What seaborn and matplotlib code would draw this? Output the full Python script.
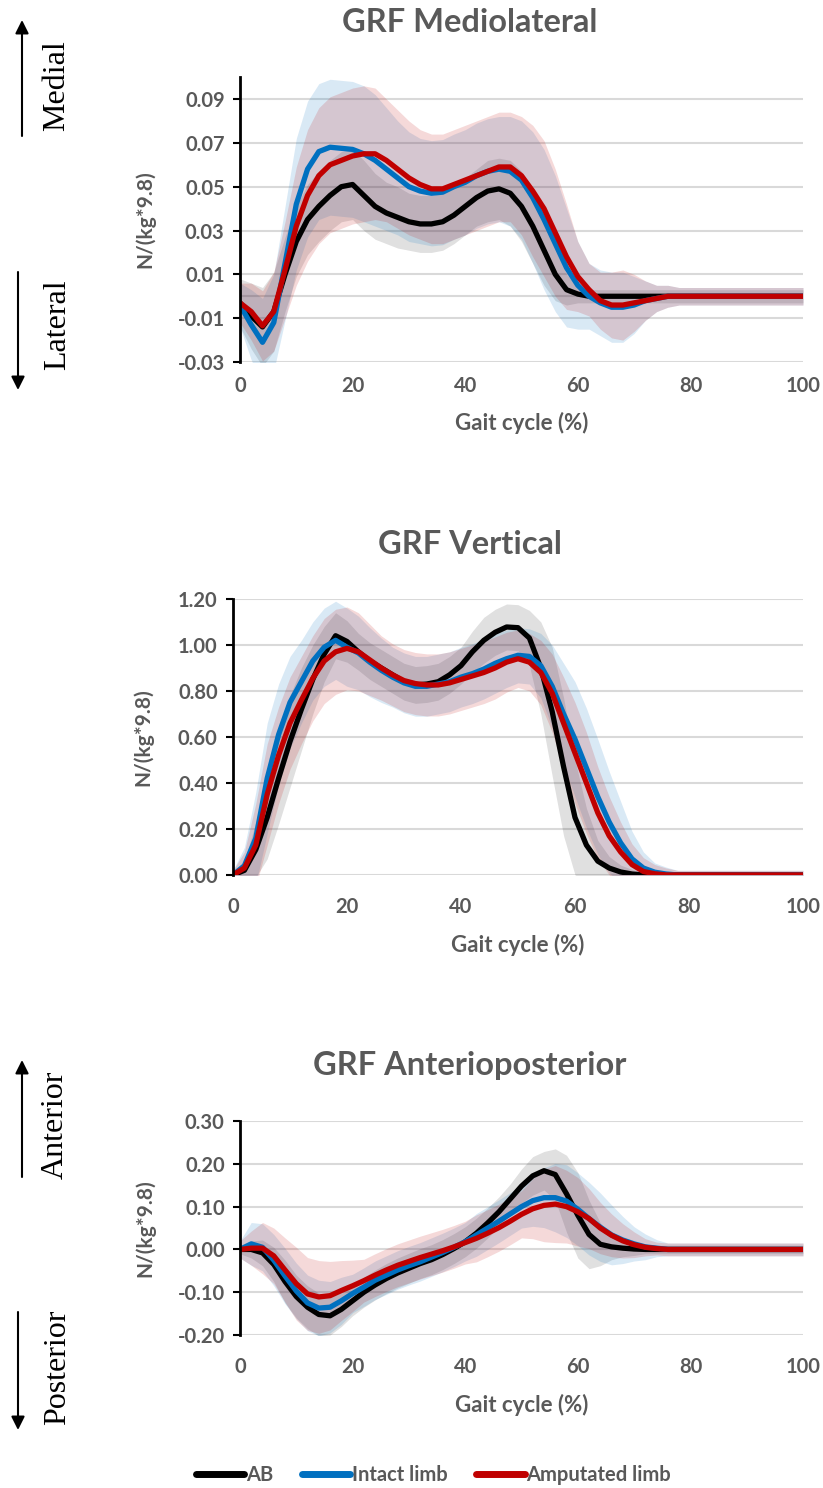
import numpy as np
import pandas as pd
import matplotlib
matplotlib.use("Agg")
import matplotlib.pyplot as plt
from matplotlib.patches import FancyArrowPatch
import seaborn as sns

# gait cycle grid (%)
gait = list(range(0, 101, 2))

groups = ["AB", "Intact limb", "Amputated limb"]
colors = ["#000000", "#0070C0", "#C00000"]
band_alpha = [0.12, 0.15, 0.15]

# ---- GRF Mediolateral (mean / SD) ----
ml_ab = [-0.003, -0.009, -0.014, -0.007, 0.010, 0.025, 0.035, 0.041, 0.046, 0.050,
         0.051, 0.046, 0.041, 0.038, 0.036, 0.034, 0.033, 0.033, 0.034, 0.037,
         0.041, 0.045, 0.048, 0.049, 0.047, 0.041, 0.032, 0.021, 0.010, 0.003,
         0.001, 0.000, 0.000, 0.000, 0.000, 0.000, 0.000, 0.000, 0.000, 0.000,
         0.000, 0.000, 0.000, 0.000, 0.000, 0.000, 0.000, 0.000, 0.000, 0.000,
         0.000]
ml_intact = [-0.004, -0.013, -0.021, -0.012, 0.015, 0.042, 0.058, 0.066, 0.068, 0.0675,
             0.067, 0.065, 0.062, 0.058, 0.054, 0.050, 0.048, 0.047, 0.0475, 0.050,
             0.052, 0.055, 0.057, 0.058, 0.057, 0.053, 0.045, 0.035, 0.024, 0.013,
             0.005, 0.000, -0.003, -0.005, -0.005, -0.004, -0.002, -0.001, 0.000, 0.000,
             0.000, 0.000, 0.000, 0.000, 0.000, 0.000, 0.000, 0.000, 0.000, 0.000,
             0.000]
ml_amp = [-0.003, -0.007, -0.0135, -0.007, 0.012, 0.032, 0.046, 0.055, 0.060, 0.062,
          0.064, 0.065, 0.065, 0.062, 0.058, 0.054, 0.051, 0.049, 0.049, 0.051,
          0.053, 0.055, 0.057, 0.059, 0.059, 0.055, 0.048, 0.040, 0.029, 0.018,
          0.009, 0.003, -0.002, -0.004, -0.004, -0.003, -0.002, -0.001, 0.000, 0.000,
          0.000, 0.000, 0.000, 0.000, 0.000, 0.000, 0.000, 0.000, 0.000, 0.000,
          0.000]
ml_ab_sd = [0.011, 0.015, 0.018, 0.018, 0.017, 0.016, 0.016, 0.016, 0.016, 0.016,
            0.016, 0.016, 0.015, 0.014, 0.014, 0.013, 0.013, 0.013, 0.013, 0.013,
            0.013, 0.013, 0.014, 0.014, 0.015, 0.016, 0.017, 0.016, 0.012, 0.007,
            0.004, 0.003, 0.003, 0.003, 0.003, 0.003, 0.003, 0.003, 0.003, 0.003,
            0.003, 0.003, 0.003, 0.003, 0.003, 0.003, 0.003, 0.003, 0.003, 0.003,
            0.003]
ml_intact_sd = [0.010, 0.016, 0.020, 0.022, 0.026, 0.030, 0.031, 0.031, 0.031, 0.031,
                0.031, 0.031, 0.030, 0.028, 0.026, 0.025, 0.024, 0.024, 0.024, 0.024,
                0.024, 0.024, 0.024, 0.024, 0.025, 0.027, 0.030, 0.032, 0.031, 0.027,
                0.020, 0.015, 0.015, 0.016, 0.016, 0.013, 0.009, 0.006, 0.005, 0.004,
                0.004, 0.004, 0.004, 0.004, 0.004, 0.004, 0.004, 0.004, 0.004, 0.004,
                0.004]
ml_amp_sd = [0.009, 0.013, 0.016, 0.018, 0.022, 0.027, 0.030, 0.031, 0.031, 0.031,
             0.031, 0.031, 0.030, 0.028, 0.027, 0.026, 0.025, 0.025, 0.025, 0.025,
             0.025, 0.025, 0.025, 0.025, 0.025, 0.027, 0.030, 0.031, 0.029, 0.024,
             0.016, 0.012, 0.013, 0.015, 0.016, 0.013, 0.009, 0.006, 0.005, 0.004,
             0.004, 0.004, 0.004, 0.004, 0.004, 0.004, 0.004, 0.004, 0.004, 0.004,
             0.004]

# ---- GRF Vertical ----
v_ab = [0.000, 0.020, 0.110, 0.250, 0.420, 0.580, 0.720, 0.850, 0.960, 1.040,
        1.015, 0.970, 0.930, 0.900, 0.870, 0.840, 0.826, 0.830, 0.840, 0.870,
        0.910, 0.970, 1.020, 1.055, 1.078, 1.075, 1.030, 0.900, 0.710, 0.470,
        0.250, 0.130, 0.060, 0.030, 0.013, 0.004, 0.000, 0.000, 0.000, 0.000,
        0.000, 0.000, 0.000, 0.000, 0.000, 0.000, 0.000, 0.000, 0.000, 0.000,
        0.000]
v_intact = [0.000, 0.040, 0.160, 0.420, 0.610, 0.750, 0.840, 0.930, 0.990, 1.020,
            0.990, 0.965, 0.925, 0.890, 0.860, 0.835, 0.820, 0.820, 0.830, 0.840,
            0.860, 0.875, 0.895, 0.920, 0.940, 0.955, 0.950, 0.910, 0.820, 0.700,
            0.590, 0.465, 0.340, 0.230, 0.140, 0.070, 0.030, 0.012, 0.004, 0.000,
            0.000, 0.000, 0.000, 0.000, 0.000, 0.000, 0.000, 0.000, 0.000, 0.000,
            0.000]
v_amp = [0.000, 0.030, 0.130, 0.350, 0.520, 0.660, 0.760, 0.855, 0.930, 0.970,
         0.985, 0.970, 0.935, 0.900, 0.870, 0.845, 0.832, 0.826, 0.826, 0.835,
         0.850, 0.865, 0.880, 0.900, 0.925, 0.940, 0.925, 0.880, 0.790, 0.660,
         0.530, 0.400, 0.270, 0.170, 0.100, 0.045, 0.015, 0.005, 0.000, 0.000,
         0.000, 0.000, 0.000, 0.000, 0.000, 0.000, 0.000, 0.000, 0.000, 0.000,
         0.000]
v_ab_sd = [0.010, 0.040, 0.120, 0.180, 0.200, 0.200, 0.180, 0.150, 0.120, 0.100,
           0.090, 0.080, 0.080, 0.080, 0.080, 0.080, 0.080, 0.080, 0.080, 0.080,
           0.080, 0.090, 0.100, 0.100, 0.100, 0.100, 0.120, 0.200, 0.280, 0.300,
           0.250, 0.160, 0.090, 0.050, 0.030, 0.020, 0.010, 0.010, 0.010, 0.010,
           0.010, 0.010, 0.010, 0.010, 0.010, 0.010, 0.010, 0.010, 0.010, 0.010,
           0.010]
v_intact_sd = [0.020, 0.080, 0.200, 0.240, 0.220, 0.200, 0.180, 0.170, 0.170, 0.170,
               0.170, 0.160, 0.150, 0.140, 0.130, 0.130, 0.130, 0.130, 0.130, 0.130,
               0.130, 0.130, 0.130, 0.130, 0.125, 0.120, 0.120, 0.140, 0.180, 0.220,
               0.250, 0.260, 0.250, 0.220, 0.180, 0.120, 0.070, 0.040, 0.030, 0.020,
               0.020, 0.020, 0.020, 0.020, 0.020, 0.020, 0.020, 0.020, 0.020, 0.020,
               0.020]
v_amp_sd = [0.020, 0.070, 0.180, 0.220, 0.210, 0.200, 0.190, 0.185, 0.185, 0.185,
            0.180, 0.170, 0.155, 0.140, 0.135, 0.135, 0.135, 0.135, 0.135, 0.135,
            0.135, 0.135, 0.135, 0.135, 0.130, 0.125, 0.125, 0.140, 0.170, 0.200,
            0.220, 0.220, 0.200, 0.170, 0.130, 0.090, 0.060, 0.040, 0.030, 0.020,
            0.020, 0.020, 0.020, 0.020, 0.020, 0.020, 0.020, 0.020, 0.020, 0.020,
            0.020]

# ---- GRF Anterioposterior ----
ap_ab = [0.000, 0.000, -0.008, -0.035, -0.075, -0.110, -0.135, -0.152, -0.155, -0.140,
         -0.120, -0.100, -0.083, -0.068, -0.055, -0.044, -0.033, -0.024, -0.012, 0.002,
         0.018, 0.038, 0.062, 0.088, 0.118, 0.148, 0.172, 0.184, 0.175, 0.130,
         0.080, 0.035, 0.012, 0.006, 0.003, 0.001, 0.000, 0.000, 0.000, 0.000,
         0.000, 0.000, 0.000, 0.000, 0.000, 0.000, 0.000, 0.000, 0.000, 0.000,
         0.000]
ap_intact = [0.000, 0.013, 0.005, -0.025, -0.062, -0.097, -0.125, -0.137, -0.135, -0.120,
             -0.103, -0.088, -0.072, -0.060, -0.048, -0.038, -0.029, -0.018, -0.007, 0.005,
             0.018, 0.034, 0.050, 0.066, 0.083, 0.100, 0.114, 0.121, 0.121, 0.113,
             0.094, 0.072, 0.052, 0.034, 0.022, 0.013, 0.006, 0.003, 0.000, 0.000,
             0.000, 0.000, 0.000, 0.000, 0.000, 0.000, 0.000, 0.000, 0.000, 0.000,
             0.000]
ap_amp = [0.000, 0.003, 0.003, -0.015, -0.048, -0.080, -0.104, -0.111, -0.108, -0.096,
          -0.085, -0.073, -0.060, -0.048, -0.037, -0.028, -0.019, -0.011, -0.003, 0.006,
          0.016, 0.026, 0.038, 0.051, 0.066, 0.082, 0.095, 0.103, 0.106, 0.100,
          0.088, 0.072, 0.050, 0.033, 0.020, 0.011, 0.005, 0.002, 0.000, 0.000,
          0.000, 0.000, 0.000, 0.000, 0.000, 0.000, 0.000, 0.000, 0.000, 0.000,
          0.000]
ap_ab_sd = [0.010, 0.020, 0.030, 0.040, 0.050, 0.050, 0.050, 0.050, 0.045, 0.040,
            0.035, 0.035, 0.035, 0.035, 0.035, 0.035, 0.035, 0.035, 0.035, 0.035,
            0.035, 0.035, 0.035, 0.035, 0.035, 0.040, 0.045, 0.045, 0.060, 0.090,
            0.100, 0.080, 0.050, 0.030, 0.020, 0.015, 0.010, 0.010, 0.010, 0.010,
            0.010, 0.010, 0.010, 0.010, 0.010, 0.010, 0.010, 0.010, 0.010, 0.010,
            0.010]
ap_intact_sd = [0.020, 0.050, 0.055, 0.060, 0.065, 0.065, 0.065, 0.065, 0.060, 0.055,
                0.045, 0.045, 0.045, 0.045, 0.045, 0.045, 0.045, 0.045, 0.045, 0.045,
                0.045, 0.050, 0.050, 0.050, 0.050, 0.050, 0.060, 0.070, 0.080, 0.085,
                0.085, 0.085, 0.080, 0.070, 0.055, 0.040, 0.030, 0.020, 0.015, 0.015,
                0.015, 0.015, 0.015, 0.015, 0.015, 0.015, 0.015, 0.015, 0.015, 0.015,
                0.015]
ap_amp_sd = [0.020, 0.040, 0.060, 0.065, 0.075, 0.085, 0.085, 0.085, 0.080, 0.070,
             0.060, 0.050, 0.050, 0.050, 0.050, 0.050, 0.050, 0.050, 0.050, 0.050,
             0.050, 0.055, 0.055, 0.055, 0.055, 0.055, 0.070, 0.085, 0.090, 0.085,
             0.080, 0.070, 0.060, 0.050, 0.040, 0.030, 0.020, 0.015, 0.015, 0.015,
             0.015, 0.015, 0.015, 0.015, 0.015, 0.015, 0.015, 0.015, 0.015, 0.015,
             0.015]

x_ticks = [0, 20, 40, 60, 80, 100]
ml_yticks = [-0.03, -0.01, 0.01, 0.03, 0.05, 0.07, 0.09]
v_yticks = [0.00, 0.20, 0.40, 0.60, 0.80, 1.00, 1.20]
ap_yticks = [-0.20, -0.10, 0.00, 0.10, 0.20, 0.30]


def long_table(means, sds):
    parts = []
    for g, m, s in zip(groups, means, sds):
        parts.append(pd.DataFrame({"gait": gait, "value": m, "sd": s, "group": g}))
    return pd.concat(parts, ignore_index=True)


sns.set_theme(style="white")
plt.rcParams["font.family"] = ["Lato", "DejaVu Sans"]
GRAY = "#595959"

fig = plt.figure(figsize=(8.23, 14.88), dpi=100)

panels = [
    dict(df=long_table([ml_ab, ml_intact, ml_amp], [ml_ab_sd, ml_intact_sd, ml_amp_sd]),
         rect=[0.2916, 0.7567, 0.6841, 0.1915], ylim=(-0.03, 0.10), yticks=ml_yticks,
         title="GRF Mediolateral", title_y=22, pad=10, xlab_y=-0.214, ylab_x=-0.1687),
    dict(df=long_table([v_ab, v_intact, v_amp], [v_ab_sd, v_intact_sd, v_amp_sd]),
         rect=[0.2831, 0.4120, 0.6926, 0.1855], ylim=(0.0, 1.2), yticks=v_yticks,
         title="GRF Vertical", title_y=545, pad=16, xlab_y=-0.2536, ylab_x=-0.158),
    dict(df=long_table([ap_ab, ap_intact, ap_amp], [ap_ab_sd, ap_intact_sd, ap_amp_sd]),
         rect=[0.2916, 0.1028, 0.6841, 0.1438], ylim=(-0.2, 0.3), yticks=ap_yticks,
         title="GRF Anterioposterior", title_y=1065, pad=16, xlab_y=-0.327, ylab_x=-0.1687),
]

for i, p in enumerate(panels):
    ax = fig.add_axes(p["rect"])
    df = p["df"]
    # SD bands
    for g, c, a in zip(groups, colors, band_alpha):
        d = df[df["group"] == g]
        ax.fill_between(d["gait"], d["value"] - d["sd"], d["value"] + d["sd"],
                        color=c, alpha=a, lw=0)
    sns.lineplot(data=df, x="gait", y="value", hue="group", hue_order=groups,
                 palette=colors, linewidth=3.8, legend=False, ax=ax,
                 errorbar=None, solid_capstyle="round", solid_joinstyle="round")
    if i == 0:
        ax.axhline(0, color="#d9d9d9", lw=1.5, zorder=0)
    ax.set_xlim(0, 100)
    ax.set_ylim(*p["ylim"])
    ax.set_xticks(x_ticks)
    ax.set_yticks(p["yticks"])
    ax.set_yticklabels([f"{v:.2f}" for v in p["yticks"]])
    ax.yaxis.grid(True, color="#d9d9d9", lw=1.5)
    ax.set_axisbelow(True)
    for s in ["top", "right", "bottom"]:
        ax.spines[s].set_visible(False)
    ax.spines["left"].set_color("black")
    ax.spines["left"].set_linewidth(2)
    ax.tick_params(axis="y", direction="out", length=5, width=1.5, color="black",
                   left=True, labelsize=14.5, labelcolor=GRAY, pad=6)
    ax.tick_params(axis="x", length=0, labelsize=14.5, labelcolor=GRAY, pad=p["pad"])
    for lab in ax.get_xticklabels() + ax.get_yticklabels():
        lab.set_fontweight("bold")
    ax.set_xlabel("Gait cycle (%)", fontsize=16, fontweight="bold", color=GRAY)
    ax.xaxis.label.set_va("center")
    ax.xaxis.set_label_coords(0.5, p["xlab_y"])
    ax.set_ylabel("N/(kg*9.8)", fontsize=15, fontweight="bold", color=GRAY)
    ax.yaxis.label.set_va("center")
    ax.yaxis.set_label_coords(p["ylab_x"], 0.5)
    fig.text(470 / 823, 1 - p["title_y"] / 1488, p["title"], ha="center", va="center",
             fontsize=23.5, fontweight="bold", color=GRAY)
    last_ax = ax

# direction arrows and labels on the left
def px(x, y):
    return (x / 823, 1 - y / 1488)

serif = ["Liberation Serif", "DejaVu Serif"]
for (x0, y0, y1, lx, ly, txt) in [(22, 136, 20, 57, 86, "Medial"),
                                  (18, 272, 390, 58, 325, "Lateral"),
                                  (22, 1177, 1060, 55, 1125, "Anterior"),
                                  (18, 1312, 1430, 58, 1367, "Posterior")]:
    fig.add_artist(FancyArrowPatch(px(x0, y0), px(x0, y1), transform=fig.transFigure,
                                   arrowstyle="-|>", mutation_scale=20, lw=1.5,
                                   color="black", shrinkA=0, shrinkB=0))
    fig.text(*px(lx, ly), txt, rotation=90, ha="center", va="center",
             fontsize=23, family=serif, color="black")

handles = last_ax.get_lines()[:3]
leg = fig.legend(handles, groups, loc="center", bbox_to_anchor=(0.527, 1 - 1475 / 1488),
                 ncol=3, frameon=False, handlelength=2.4, handletextpad=0.1,
                 columnspacing=1.4, prop={"weight": "bold", "size": 14.5})
for t in leg.get_texts():
    t.set_color(GRAY)
for h in leg.get_lines():
    h.set_linewidth(5)

fig.savefig("out.png", dpi=100)
